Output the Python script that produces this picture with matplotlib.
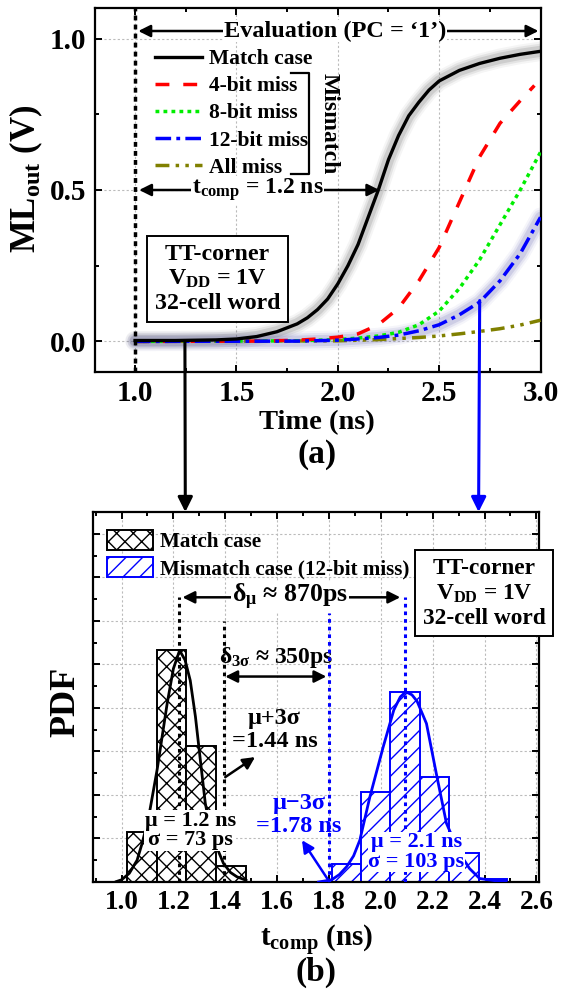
import numpy as np
import matplotlib
matplotlib.use("Agg")
import matplotlib.pyplot as plt
from matplotlib.patches import ConnectionPatch
from matplotlib.ticker import MultipleLocator, FormatStrFormatter

plt.rcParams['font.family'] = ['Liberation Serif', 'DejaVu Serif']
plt.rcParams['font.weight'] = 'bold'
plt.rcParams['mathtext.fontset'] = 'custom'
plt.rcParams['mathtext.rm'] = 'Liberation Serif:bold'
plt.rcParams['mathtext.it'] = 'Liberation Serif:bold'
plt.rcParams['mathtext.bf'] = 'Liberation Serif:bold'
plt.rcParams['hatch.linewidth'] = 1.0

# (a) ML voltage transients
t_match = [1.0, 1.2, 1.4, 1.5, 1.6, 1.7, 1.8, 1.85, 1.9, 1.95, 2.0, 2.05, 2.1, 2.15, 2.2, 2.25, 2.3,
           2.35, 2.4, 2.45, 2.5, 2.6, 2.7, 2.8, 2.9, 3.0]
v_match = [0.003, 0.003, 0.005, 0.008, 0.016, 0.032, 0.058, 0.078, 0.105, 0.14, 0.19, 0.25, 0.32, 0.41,
           0.50, 0.60, 0.68, 0.745, 0.79, 0.83, 0.86, 0.895, 0.918, 0.935, 0.948, 0.958]
t_4bit = [1.0, 1.6, 1.8, 1.9, 2.0, 2.1, 2.2, 2.3, 2.4, 2.5, 2.6, 2.7, 2.8, 2.9, 2.97]
v_4bit = [0.0, 0.001, 0.004, 0.008, 0.014, 0.025, 0.055, 0.11, 0.20, 0.31, 0.46, 0.61, 0.72, 0.795, 0.845]
t_8bit = [1.0, 1.8, 2.0, 2.1, 2.2, 2.3, 2.4, 2.5, 2.6, 2.7, 2.8, 2.9, 3.0]
v_8bit = [0.0, 0.002, 0.006, 0.011, 0.018, 0.03, 0.055, 0.10, 0.175, 0.27, 0.385, 0.50, 0.625]
t_12bit = [1.0, 1.8, 2.0, 2.1, 2.2, 2.3, 2.4, 2.5, 2.6, 2.7, 2.8, 2.9, 3.0]
v_12bit = [0.0, 0.001, 0.004, 0.008, 0.013, 0.021, 0.035, 0.055, 0.088, 0.13, 0.2, 0.29, 0.41]
t_all = [1.0, 2.0, 2.2, 2.4, 2.5, 2.6, 2.7, 2.8, 2.9, 3.0]
v_all = [0.0, 0.002, 0.006, 0.013, 0.018, 0.025, 0.033, 0.042, 0.054, 0.07]

# (b) t_comp histograms and fitted PDFs
match_edges = [1.02, 1.135, 1.25, 1.365, 1.48]
match_pdf = [1.15, 5.34, 3.12, 0.37]
miss_edges = [1.812, 1.923, 2.035, 2.15, 2.262, 2.377, 2.488]
miss_pdf = [0.41, 2.06, 4.36, 2.41, 0.67, 0.06]
fit_match_t = [0.98, 1.00, 1.03, 1.06, 1.08, 1.105, 1.137, 1.176, 1.20, 1.224, 1.245, 1.265, 1.285, 1.304,
               1.323, 1.34, 1.36, 1.393, 1.42, 1.445, 1.48]
fit_match_pdf = [0.01, 0.05, 0.2, 0.5, 0.9, 1.5, 2.57, 4.1, 4.9, 5.32, 5.1, 4.63, 3.8, 2.8, 1.81, 1.3,
                 0.9, 0.43, 0.22, 0.12, 0.04]
fit_miss_t = [1.76, 1.81, 1.84, 1.868, 1.895, 1.919, 1.958, 2.009, 2.05, 2.075, 2.096, 2.12, 2.14, 2.176,
              2.214, 2.253, 2.30, 2.342, 2.381, 2.44, 2.483]
fit_miss_pdf = [0.0, 0.05, 0.17, 0.35, 0.6, 0.96, 1.96, 3.10, 3.95, 4.25, 4.37, 4.3, 4.15, 3.64,
                2.49, 1.35, 0.7, 0.31, 0.08, 0.03, 0.02]

mu_match, mu3s_match = 1.22, 1.396
mu_miss, mu3s_miss = 2.092, 1.80

W, H = 561, 994
fig = plt.figure(figsize=(W / 100, H / 100), dpi=100)
ax1 = fig.add_axes([94.5 / W, 1 - 371.7 / H, 446 / W, 363.4 / H])
ax2 = fig.add_axes([93 / W, 1 - 882 / H, 446 / W, 370 / H])

def style_axes(ax, fs):
    for s in ax.spines.values():
        s.set_linewidth(1.6)
    ax.tick_params(which='both', direction='in', top=True, right=True, width=1.4)
    ax.tick_params(which='major', length=5, labelsize=fs, pad=6)
    ax.tick_params(which='minor', length=3)
    ax.grid(True, which='major', color='#bbbbbb', lw=0.8, ls=(0, (2, 2)), zorder=0)
    ax.set_axisbelow(True)

# ---------------- (a) ----------------
style_axes(ax1, 21)
ax1.set_xlim(0.8, 3.0)
ax1.set_ylim(-0.1, 1.1)
ax1.xaxis.set_major_locator(MultipleLocator(0.5))
ax1.xaxis.set_minor_locator(MultipleLocator(0.25))
ax1.yaxis.set_major_locator(MultipleLocator(0.5))
ax1.yaxis.set_minor_locator(MultipleLocator(0.25))
ax1.xaxis.set_major_formatter(FormatStrFormatter('%.1f'))
ax1.yaxis.set_major_formatter(FormatStrFormatter('%.1f'))

# glow behind match and 12-bit curves
for w, a in [(14, 0.06), (11, 0.10), (8, 0.16)]:
    ax1.plot(t_match, v_match, color='#555555', lw=w, alpha=a, solid_capstyle='round', zorder=2)
    ax1.plot(t_12bit, v_12bit, color='#5555aa', lw=w, alpha=a, solid_capstyle='round', zorder=2)

ax1.plot(t_all, v_all, color='#808000', lw=2.5, dashes=(4, 1.8, 1, 1.8, 1, 1.8), label='All miss', zorder=3)
ax1.plot(t_8bit, v_8bit, color='#00ee00', lw=2.5, dashes=(1.1, 1.2), label='8-bit miss', zorder=3)
ax1.plot(t_4bit, v_4bit, color='#ff0000', lw=2.5, dashes=(4, 4), label='4-bit miss', zorder=3)
ax1.plot(t_12bit, v_12bit, color='#0000ff', lw=2.5, dashes=(4.5, 1.5, 1.1, 1.5), label='12-bit miss', zorder=4)
ax1.plot(t_match, v_match, color='k', lw=2.4, label='Match case', zorder=5)

ax1.axvline(1.0, color='k', lw=2.5, dashes=(1.4, 1.2), zorder=4)

h, l = ax1.get_legend_handles_labels()
order = [4, 2, 1, 3, 0]
ax1.legend([h[i] for i in order], [l[i] for i in order], loc='upper left',
           bbox_to_anchor=(0.1357, 0.888), frameon=False, fontsize=15.5,
           handlelength=2.2, handletextpad=0.3, labelspacing=0.33,
           borderaxespad=0, borderpad=0)

# Mismatch bracket
ax1.plot([1.767, 1.859, 1.859, 1.767], [0.887, 0.887, 0.553, 0.553], color='k', lw=1.6, zorder=4)
ax1.text(1.957, 0.72, 'Mismatch', rotation=-90, ha='center', va='center', fontsize=17)

arw = dict(arrowstyle='<|-|>', color='k', lw=1.8, mutation_scale=18, shrinkA=0, shrinkB=0)
ax1.annotate('', xy=(2.99, 1.025), xytext=(1.016, 1.025), arrowprops=arw, zorder=5)
ax1.text(1.987, 1.025, 'Evaluation (PC = \u20181\u2019)', ha='center', va='center', fontsize=17.5,
         bbox=dict(facecolor='white', edgecolor='none', pad=0.5), zorder=6)
ax1.annotate('', xy=(2.205, 0.50), xytext=(1.02, 0.50), arrowprops=arw, zorder=5)
ax1.text(1.605, 0.50, r't$_{\mathrm{comp}}$ = 1.2 ns', ha='center', va='center', fontsize=17,
         bbox=dict(facecolor='white', edgecolor='none', pad=0.5), zorder=6)

ax1.text(1.407, 0.206, 'TT-corner\nV$_{\\mathrm{DD}}$ = 1V\n32-cell word', ha='center', va='center',
         fontsize=17.2, linespacing=1.2, zorder=6,
         bbox=dict(boxstyle='square,pad=0.32', facecolor='white', edgecolor='k', lw=1.4))

fig.text(26 / W, 1 - 179 / H, r'ML$_{\mathrm{out}}$ (V)', rotation=90, ha='center', va='center', fontsize=25)
fig.text(317 / W, 1 - 423 / H, 'Time (ns)', ha='center', va='center', fontsize=20.5)
fig.text(317 / W, 1 - 455 / H, '(a)', ha='center', va='center', fontsize=24)

# ---------------- (b) ----------------
style_axes(ax2, 19.5)
ax2.set_xlim(0.89, 2.61)
ax2.set_ylim(0, 8.5)
ax2.xaxis.set_major_locator(MultipleLocator(0.2))
ax2.xaxis.set_minor_locator(MultipleLocator(0.1))
ax2.yaxis.set_major_locator(MultipleLocator(1))
ax2.yaxis.set_minor_locator(MultipleLocator(0.5))
ax2.xaxis.set_major_formatter(FormatStrFormatter('%.1f'))
ax2.tick_params(axis='y', which='both', labelleft=False)

ax2.bar(match_edges[:-1], match_pdf, width=np.diff(match_edges), align='edge',
        facecolor='white', edgecolor='k', hatch='xx', lw=1.4, label='Match case', zorder=2)
ax2.bar(miss_edges[:-1], miss_pdf, width=np.diff(miss_edges), align='edge',
        facecolor='white', edgecolor='#0000ff', hatch='//', lw=1.4, label='Mismatch case (12-bit miss)', zorder=2)
ax2.plot(fit_match_t, fit_match_pdf, color='k', lw=2.0, zorder=3)
ax2.plot(fit_miss_t, fit_miss_pdf, color='#0000ff', lw=2.0, zorder=3)

ax2.plot([mu_match, mu_match], [0, 6.54], color='k', lw=2.2, dashes=(1.2, 1.3), zorder=4)
ax2.plot([mu3s_match, mu3s_match], [0, 6.0], color='k', lw=2.2, dashes=(1.2, 1.3), zorder=4)
ax2.plot([mu3s_miss, mu3s_miss], [0, 6.17], color='#0000ff', lw=2.2, dashes=(1.2, 1.3), zorder=4)
ax2.plot([mu_miss, mu_miss], [0, 6.54], color='#0000ff', lw=2.2, dashes=(1.2, 1.3), zorder=4)

ax2.legend(loc='upper left', bbox_to_anchor=(0.031, 0.952), frameon=False, fontsize=15.2,
           handlelength=2.2, handleheight=1.1, handletextpad=0.3, labelspacing=0.22,
           borderaxespad=0, borderpad=0)

arw2 = dict(arrowstyle='-|>', color='k', lw=1.8, mutation_scale=18, shrinkA=0, shrinkB=0)
ax2.annotate('', xy=(1.235, 6.54), xytext=(1.50, 6.54), arrowprops=arw2)
ax2.annotate('', xy=(2.075, 6.54), xytext=(1.80, 6.54), arrowprops=arw2)
ax2.text(1.65, 6.54, r'δ$_{\mathrm{μ}}$ ≈ 870ps', ha='center', va='center', fontsize=18.5,
         bbox=dict(facecolor='white', edgecolor='none', pad=0.5), zorder=6)
ax2.annotate('', xy=(1.79, 4.72), xytext=(1.40, 4.72), arrowprops=arw, zorder=5)
ax2.text(1.596, 5.16, r'δ$_{\mathrm{3σ}}$ ≈ 350ps', ha='center', va='center', fontsize=17)

ax2.text(1.59, 3.49, 'μ+3σ\n=1.44 ns', ha='center', va='center', fontsize=17.5, linespacing=1.15)
ax2.annotate('', xy=(1.515, 2.87), xytext=(1.40, 2.41), arrowprops=arw2)
ax2.text(1.685, 1.54, 'μ\u22123σ\n=1.78 ns', ha='center', va='center', fontsize=17.5,
         color='#0000ff', linespacing=1.15)
ax2.annotate('', xy=(1.696, 0.96), xytext=(1.80, 0.02),
             arrowprops=dict(arw2, color='#0000ff'))

ax2.text(1.265, 1.18, 'μ = 1.2 ns\nσ = 73 ps', ha='center', va='center', fontsize=16,
         linespacing=0.95, zorder=6, bbox=dict(facecolor='white', edgecolor='none', pad=0.5))
ax2.text(2.137, 0.69, 'μ = 2.1 ns\nσ = 103 ps', ha='center', va='center', fontsize=16,
         color='#0000ff', linespacing=0.95, zorder=6,
         bbox=dict(facecolor='white', edgecolor='none', pad=0.5))

ax2.text(2.398, 6.63, 'TT-corner\nV$_{\\mathrm{DD}}$ = 1V\n32-cell word', ha='center', va='center',
         fontsize=16.8, linespacing=1.2, zorder=6, clip_on=False,
         bbox=dict(boxstyle='square,pad=0.32', facecolor='white', edgecolor='k', lw=1.4))

fig.text(66 / W, 1 - 702 / H, 'PDF', rotation=90, ha='center', va='center', fontsize=26)
fig.text(317 / W, 1 - 940 / H, r't$_{\mathrm{comp}}$ (ns)', ha='center', va='center', fontsize=21)
fig.text(316 / W, 1 - 972 / H, '(b)', ha='center', va='center', fontsize=24)

# arrows linking (a) to (b)
for xa, ya, xb, c in [(1.246, 0.0, 1.246, 'k'), (2.70, 0.135, 2.377, '#0000ff')]:
    con = ConnectionPatch(xyA=(xa, ya), coordsA=ax1.transData, xyB=(xb, 8.5), coordsB=ax2.transData,
                          arrowstyle='-|>', color=c, lw=2.2, mutation_scale=22, shrinkA=0, shrinkB=0, zorder=10)
    fig.add_artist(con)

fig.savefig('out.png', dpi=100)
